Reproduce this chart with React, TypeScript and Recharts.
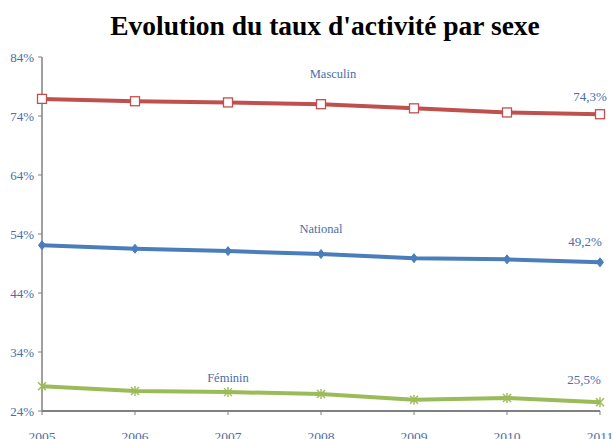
import React from "react";
import { LineChart, Line, XAxis, YAxis, LabelList } from "recharts";

const years = ["2005", "2006", "2007", "2008", "2009", "2010", "2011"];
const masculin = [76.9, 76.5, 76.3, 76.0, 75.3, 74.6, 74.3];
const national = [52.1, 51.5, 51.1, 50.6, 49.9, 49.7, 49.2];
const feminin = [28.2, 27.4, 27.2, 26.9, 25.9, 26.2, 25.5];
const yTicks = [24, 34, 44, 54, 64, 74, 84];
const seriesNames = ["Masculin", "National", "Féminin"];

const data = years.map((y, i) => ({
  year: y,
  m: masculin[i],
  n: national[i],
  f: feminin[i],
}));

const TEXT = "#4a6ea8";
const FONT = "'Liberation Serif', 'DejaVu Serif', serif";
const RED = "#c0504d";
const BLUE = "#4a7ebb";
const GREEN = "#9bbb59";

const fmt = (v: number) => v.toFixed(1).replace(".", ",") + "%";

const SquareDot = (p: any) => (
  <rect x={p.cx - 4.5} y={p.cy - 4.5} width={9} height={9} fill="#fff" stroke={RED} strokeWidth={1.3} />
);
const DiamondDot = (p: any) => (
  <path d={`M${p.cx} ${p.cy - 4.5} L${p.cx + 3.5} ${p.cy} L${p.cx} ${p.cy + 4.5} L${p.cx - 3.5} ${p.cy} Z`} fill={BLUE} stroke={BLUE} strokeWidth={1} />
);
const StarDot = (p: any) => (
  <g stroke={GREEN} strokeWidth={1.4}>
    <line x1={p.cx - 4} y1={p.cy - 4} x2={p.cx + 4} y2={p.cy + 4} />
    <line x1={p.cx - 4} y1={p.cy + 4} x2={p.cx + 4} y2={p.cy - 4} />
    <line x1={p.cx} y1={p.cy - 5} x2={p.cx} y2={p.cy + 5} />
  </g>
);

const makeLabel = (name: string, nameIdx: number, dx: number, dy: number, vdx: number, vdy: number) => (props: any) => {
  const { x, y, index, value } = props;
  if (index === nameIdx) {
    return (
      <text x={x + dx} y={y + dy} textAnchor="middle" fill={TEXT} fontSize={12.5} fontFamily={FONT}>
        {name}
      </text>
    );
  }
  if (index === years.length - 1) {
    return (
      <text x={x + vdx} y={y + vdy} textAnchor="middle" fill={TEXT} fontSize={13} fontFamily={FONT}>
        {fmt(value)}
      </text>
    );
  }
  return null;
};

export default function App() {
  return (
    <div style={{ position: "absolute", left: 0, top: 0, width: 613, height: 439, background: "#fff", overflow: "hidden" }}>
      <div
        style={{
          position: "absolute",
          left: 0,
          top: 10,
          width: 650,
          textAlign: "center",
          fontFamily: FONT,
          fontWeight: "bold",
          fontSize: 27.5,
          color: "#000",
          lineHeight: "32px",
        }}
      >
        Evolution du taux d'activité par sexe
      </div>
      <LineChart width={613} height={439} data={data} margin={{ top: 57, right: 13, bottom: 0, left: 0 }}>
        <XAxis
          dataKey="year"
          height={28}
          tickSize={4}
          axisLine={{ stroke: "#808080", strokeWidth: 2 }}
          tickLine={{ stroke: "#808080" }}
          tick={{ fill: TEXT, fontSize: 13.5, fontFamily: FONT, dy: 14 }}
          interval={0}
        />
        <YAxis
          width={42}
          domain={[24, 84]}
          ticks={yTicks}
          tickFormatter={(v: number) => `${v}%`}
          tickSize={4}
          axisLine={{ stroke: "#808080", strokeWidth: 1.5 }}
          tickLine={{ stroke: "#808080" }}
          tick={{ fill: TEXT, fontSize: 13, fontFamily: FONT, dx: -2 }}
          interval={0}
        />
        <Line dataKey="m" stroke={RED} strokeWidth={4} dot={<SquareDot />} isAnimationActive={false}>
          <LabelList dataKey="m" content={makeLabel(seriesNames[0], 3, 12, -26, -10, -13)} />
        </Line>
        <Line dataKey="n" stroke={BLUE} strokeWidth={4} dot={<DiamondDot />} isAnimationActive={false}>
          <LabelList dataKey="n" content={makeLabel(seriesNames[1], 3, 0, -21, -15, -16)} />
        </Line>
        <Line dataKey="f" stroke={GREEN} strokeWidth={4} dot={<StarDot />} isAnimationActive={false}>
          <LabelList dataKey="f" content={makeLabel(seriesNames[2], 2, 0, -10, -16, -18)} />
        </Line>
      </LineChart>
    </div>
  );
}
